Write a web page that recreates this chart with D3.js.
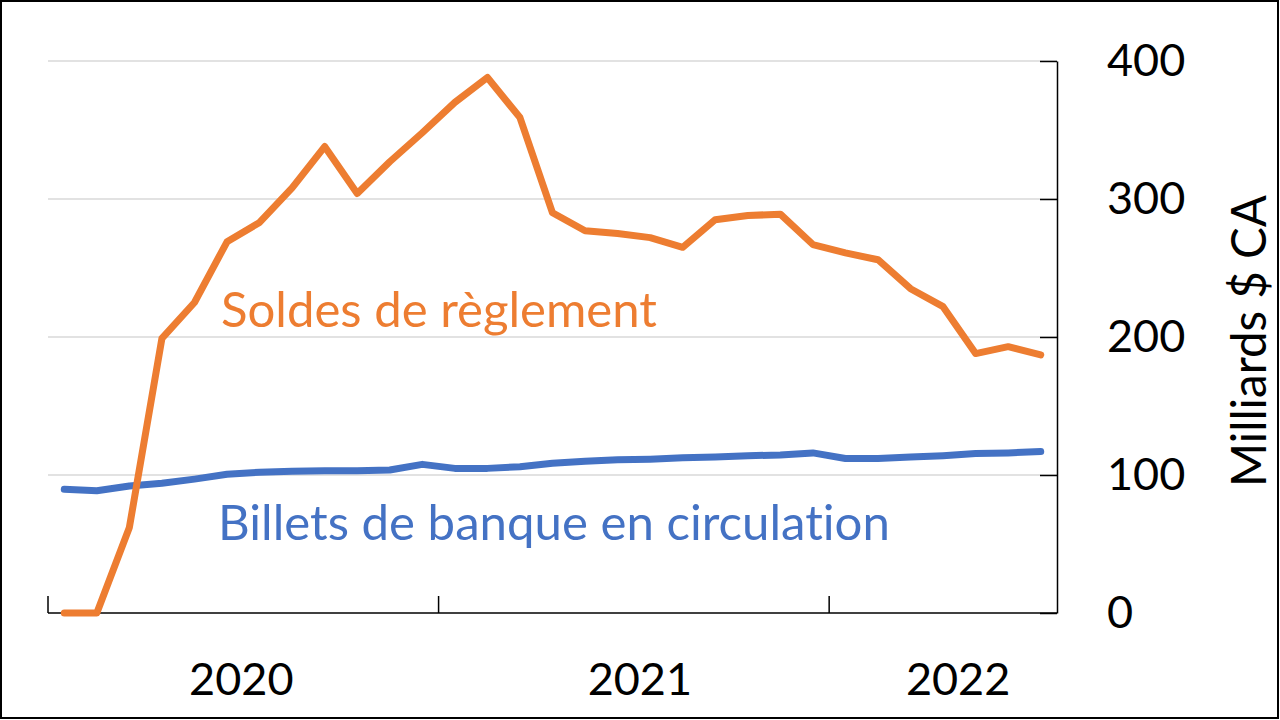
<!DOCTYPE html>
<html>
<head>
<meta charset="utf-8">
<script src="https://cdn.jsdelivr.net/npm/d3@7"></script>
<style>
  html, body { margin: 0; padding: 0; background: #fff; }
  svg { display: block; }
  text { font-family: Lato, "Open Sans", sans-serif; font-variant-ligatures: none; font-feature-settings: "liga" 0, "clig" 0; }
</style>
</head>
<body>
<svg id="chart" width="1280" height="720"></svg>
<script>
// ---- Data ----
const months = [
  "2020-01","2020-02","2020-03","2020-04","2020-05","2020-06","2020-07","2020-08","2020-09","2020-10","2020-11","2020-12",
  "2021-01","2021-02","2021-03","2021-04","2021-05","2021-06","2021-07","2021-08","2021-09","2021-10","2021-11","2021-12",
  "2022-01","2022-02","2022-03","2022-04","2022-05","2022-06","2022-07"
];
const years = ["2020", "2021", "2022"];
const settlementBalances = [0, 0, 62, 199, 225, 269, 283, 308, 338, 304, 327, 348,
                            370, 388, 359, 290, 277, 275, 272, 265, 285, 288, 289, 267,
                            261, 256, 235, 222, 188, 193, 187];
const banknotes = [89.6, 88.6, 92, 94, 97, 100.5, 102, 102.7, 103, 103, 103.6, 107.7,
                   104.8, 104.8, 106, 108.5, 110, 111, 111.5, 112.5, 113, 114, 114.5, 116,
                   112, 112, 113, 114, 115.5, 116, 117];
const yTicks = [0, 100, 200, 300, 400];
const seriesLabels = ["Soldes de règlement", "Billets de banque en circulation"];
const yTitle = "Milliards $ CA";

// ---- Layout ----
const svg = d3.select("#chart");
const pLeft = 48, pRight = 1057, pTop = 61, pBottom = 613;
const orange = "#ED7D31", blue = "#4472C4";
const yearLabelNudge = [-2, 6, 15];

const x = d3.scaleBand().domain(months).range([pLeft, pRight]).padding(0);
const cx = m => x(m) + x.bandwidth() / 2;
const y = d3.scaleLinear().domain([0, 400]).range([pBottom, pTop]);

// frame
svg.append("rect").attr("x", 1).attr("y", 1).attr("width", 1277).attr("height", 717)
  .attr("fill", "none").attr("stroke", "#000").attr("stroke-width", 2);

// gridlines
svg.append("g").selectAll("line").data(yTicks.filter(d => d > 0)).join("line")
  .attr("x1", pLeft).attr("x2", pRight)
  .attr("y1", d => y(d)).attr("y2", d => y(d))
  .attr("stroke", "#D9D9D9").attr("stroke-width", 1.5);

// right axis
const yAxis = d3.axisRight(y).tickValues(yTicks).tickSizeInner(-17).tickSizeOuter(0).tickPadding(50);
const gy = svg.append("g").attr("transform", `translate(${pRight},0)`).call(yAxis);
gy.select(".domain").attr("stroke", "#000").attr("stroke-width", 1.5);
gy.selectAll(".tick line").attr("stroke", "#000").attr("stroke-width", 1.5);
gy.selectAll(".tick text").attr("font-family", "Lato, sans-serif").attr("font-size", 45).attr("fill", "#000");

// x axis line
svg.append("line").attr("x1", pLeft).attr("x2", pRight).attr("y1", pBottom).attr("y2", pBottom)
  .attr("stroke", "#000").attr("stroke-width", 1.5);

// year boundary ticks
const yearStarts = years.map(yr => months.find(m => m.startsWith(yr)));
svg.append("g").selectAll("line").data(yearStarts).join("line")
  .attr("x1", d => x(d)).attr("x2", d => x(d))
  .attr("y1", pBottom).attr("y2", pBottom - 17)
  .attr("stroke", "#000").attr("stroke-width", 1.5);

// year labels
svg.append("g").selectAll("text").data(years).join("text")
  .attr("x", (yr, i) => {
    const ms = months.filter(m => m.startsWith(yr));
    return (x(ms[0]) + x(ms[ms.length - 1]) + x.bandwidth()) / 2 + yearLabelNudge[i];
  })
  .attr("y", 695)
  .attr("text-anchor", "middle")
  .attr("font-size", 45)
  .attr("fill", "#000")
  .text(d => d);

// lines
const line = vals => d3.line().x((d, i) => cx(months[i])).y(d => y(d))(vals);
svg.append("path").attr("d", line(banknotes))
  .attr("fill", "none").attr("stroke", blue).attr("stroke-width", 7)
  .attr("stroke-linejoin", "round").attr("stroke-linecap", "round");
svg.append("path").attr("d", line(settlementBalances))
  .attr("fill", "none").attr("stroke", orange).attr("stroke-width", 7)
  .attr("stroke-linejoin", "round").attr("stroke-linecap", "round");

// fit helper
function fit(sel, targetWidth) {
  const w = sel.node().getComputedTextLength();
  const fs = parseFloat(sel.attr("font-size"));
  sel.attr("font-size", fs * targetWidth / w);
}

// series labels
const l1 = svg.append("text").attr("x", 221).attr("y", 327).attr("font-size", 44)
  .attr("fill", orange).text(seriesLabels[0]);
fit(l1, 436);
const l2 = svg.append("text").attr("x", 218).attr("y", 540).attr("font-size", 44)
  .attr("fill", blue).text(seriesLabels[1]);
fit(l2, 672);

// y title
const t = svg.append("text").attr("transform", "translate(1266,341) rotate(-90)")
  .attr("text-anchor", "middle").attr("font-size", 44).attr("fill", "#000").text(yTitle);
fit(t, 292);
</script>
</body>
</html>
